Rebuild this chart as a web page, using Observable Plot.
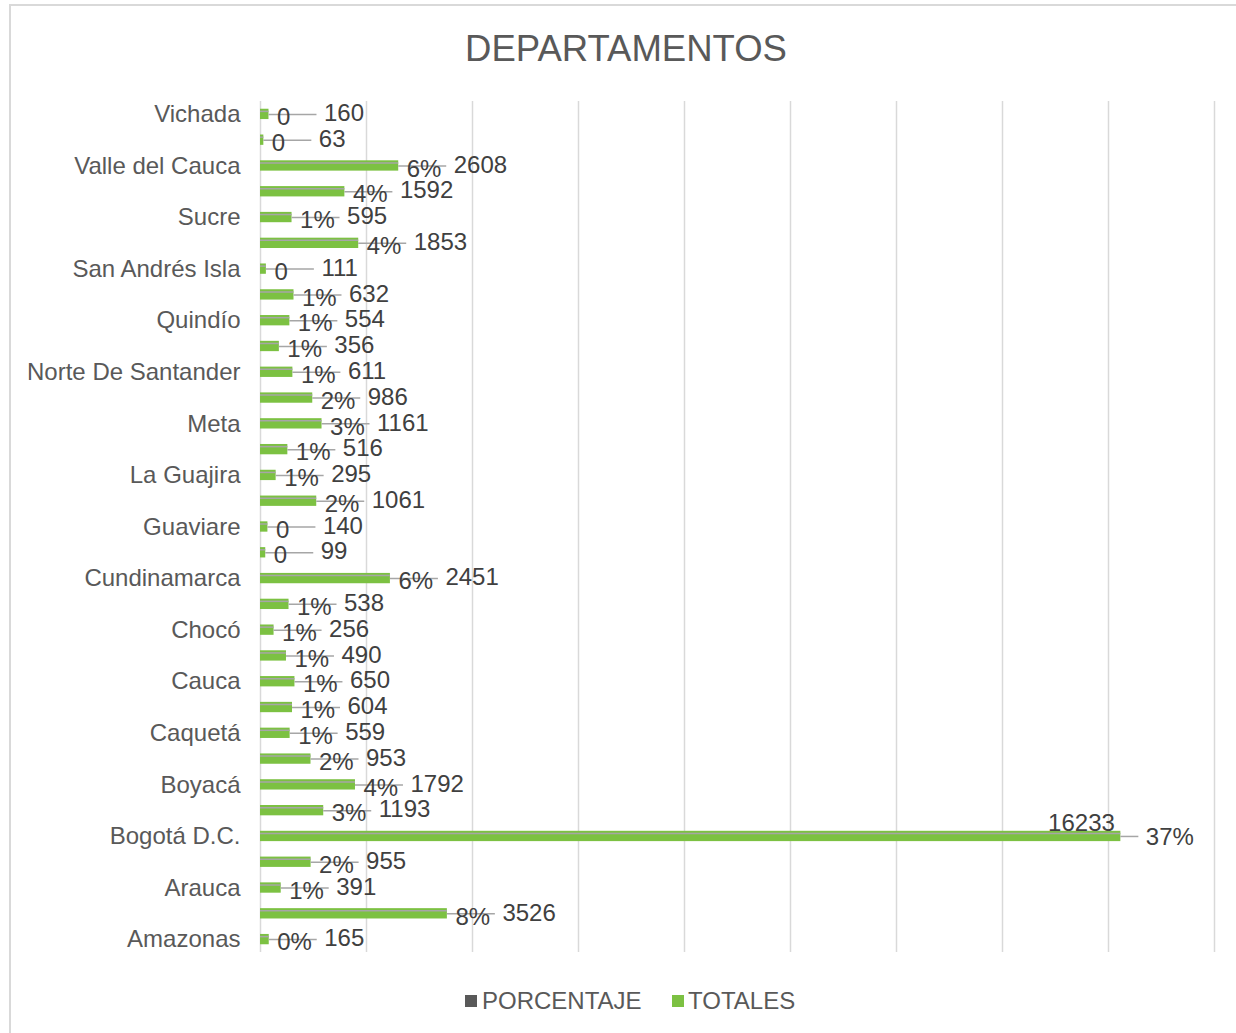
<!DOCTYPE html>
<html><head><meta charset="utf-8">
<script src="https://cdn.jsdelivr.net/npm/d3@7"></script>
<script src="https://cdn.jsdelivr.net/npm/@observablehq/plot@0.6"></script>
<style>
body{margin:0;width:1236px;height:1033px;overflow:hidden;background:#fff;font-family:"Liberation Sans",Arial,sans-serif;position:relative}
#frame{position:absolute;left:9px;top:4px;width:1300px;height:1100px;border-left:2px solid #d9d9d9;border-top:2px solid #d9d9d9}
#title{position:absolute;left:16px;width:1220px;top:31px;line-height:36px;text-align:center;font-size:36.5px;color:#595959}
#chart{position:absolute;left:0;top:80px}
.lg{position:absolute;top:989px;line-height:24px;font-size:24px;color:#595959}
.sq{position:absolute;top:995px;width:12px;height:12px}
</style></head>
<body>
<div id="frame"></div>
<div id="title">DEPARTAMENTOS</div>
<div id="chart"></div>
<div class="sq" style="left:465px;background:#595959"></div><div class="lg" style="left:482px">PORCENTAJE</div>
<div class="sq" style="left:672px;background:#7cc142"></div><div class="lg" style="left:688px">TOTALES</div>
<script>
const departamentos = ["Amazonas","Antioquia","Arauca","Atlántico","Bogotá D.C.","Bolívar","Boyacá","Caldas","Caquetá","Casanare","Cauca","Cesar","Chocó","Córdoba","Cundinamarca","Guainía","Guaviare","Huila","La Guajira","Magdalena","Meta","Nariño","Norte De Santander","Putumayo","Quindío","Risaralda","San Andrés Isla","Santander","Sucre","Tolima","Valle del Cauca","Vaupés","Vichada"];
const totales = [165,3526,391,955,16233,1193,1792,953,559,604,650,490,256,538,2451,99,140,1061,295,516,1161,986,611,356,554,632,111,1853,595,1592,2608,63,160];
const porcentajes = ["0%","8%","1%","2%","37%","3%","4%","2%","1%","1%","1%","1%","1%","1%","6%","0","0","2%","1%","1%","3%","2%","1%","1%","1%","1%","0","4%","1%","4%","6%","0","0"];
const xTicks = [0,2000,4000,6000,8000,10000,12000,14000,16000,18000];

const rows = departamentos.map((name,i)=>({name,total:totales[i],pct:porcentajes[i]}));
const order = departamentos.slice().reverse();
const shown = order.filter((d,i)=>i%2===0);
const green = "#7cc142";
const W = 1236, ML = 260, MR = 22;
const upp = 18000/(W-ML-MR);
const big = d => d.total > 10000;

const chart = Plot.plot({
  width:W, height:900, marginTop:21, marginBottom:28, marginLeft:ML, marginRight:MR,
  style:{fontFamily:"Liberation Sans, Arial, sans-serif", fontSize:"24px", color:"#404040", background:"transparent", overflow:"visible"},
  x:{domain:[0,18000], axis:null},
  y:{domain:order, type:"band", paddingInner:0.6, paddingOuter:0.3, round:false, axis:null},
  marks:[
    Plot.gridX(xTicks, {stroke:"#d9d9d9", strokeOpacity:1, strokeWidth:1.5}),
    Plot.barX(rows, {x:"total", y:"name", fill:green}),
    Plot.ruleY(rows, {y:"name", x1:0, x2:"total", dy:-3, stroke:"#a6a6a6", strokeWidth:1.5}),
    Plot.ruleY(rows, {y:"name", x1:"total", x2:d=>d.total + (big(d)?18:48)*upp, stroke:"#a6a6a6", strokeWidth:1.5}),
    Plot.text(rows.filter(d=>!big(d)), {x:"total", y:"name", text:"pct", dx:8, dy:3, textAnchor:"start", fill:"#404040", fontSize:24}),
    Plot.text(rows.filter(d=>!big(d)), {x:"total", y:"name", text:d=>String(d.total), dx:55, dy:-1, textAnchor:"start", fill:"#404040", fontSize:24}),
    Plot.text(rows.filter(big), {x:"total", y:"name", text:"pct", dx:25, dy:1, textAnchor:"start", fill:"#404040", fontSize:24}),
    Plot.text(rows.filter(big), {x:"total", y:"name", text:d=>String(d.total), dx:-6, dy:-13, textAnchor:"end", fill:"#404040", fontSize:24}),
    Plot.axisY({ticks:shown, tickSize:0, tickPadding:20, fontSize:24, fill:"#595959", label:null})
  ]
});
document.getElementById("chart").append(chart);
</script>
</body></html>
